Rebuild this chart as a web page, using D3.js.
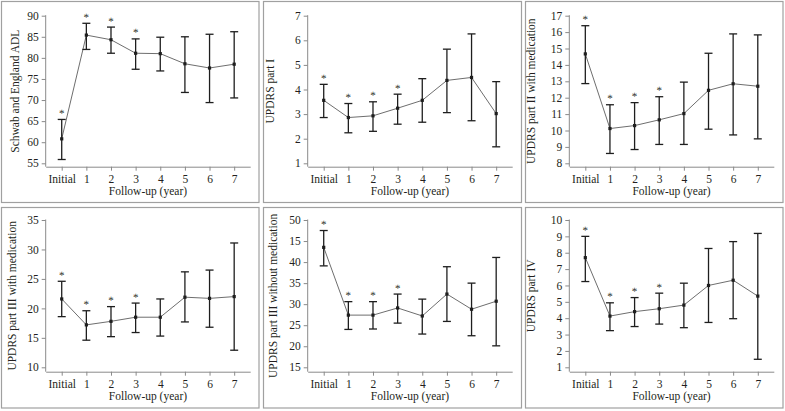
<!DOCTYPE html>
<html>
<head>
<meta charset="utf-8">
<script src="https://cdn.jsdelivr.net/npm/d3@7"></script>
<style>
html,body{margin:0;padding:0;background:#fff;}
svg{display:block;}
text{font-family:"Liberation Serif","DejaVu Serif",serif;fill:#231f20;}
</style>
</head>
<body>
<svg id="chart" width="785" height="411"></svg>
<script>
// ---------- data ----------
const categories = ["Initial", "1", "2", "3", "4", "5", "6", "7"];
const xTitle = "Follow-up (year)";

const titles = [
  "Schwab and England ADL",
  "UPDRS part I",
  "UPDRS part II with medication",
  "UPDRS part III with medication",
  "UPDRS part III without medication",
  "UPDRS part IV"
];

// mean, upper and lower error bounds per panel
const adlMean  = [60.8, 85.4, 84.3, 81.1, 81.0, 78.6, 77.6, 78.5];
const adlUpper = [65.4, 88.2, 87.3, 84.5, 84.9, 85.0, 85.6, 86.2];
const adlLower = [55.9, 82.0, 81.1, 77.3, 76.9, 71.8, 69.4, 70.5];

const p1Mean  = [3.56, 2.86, 2.93, 3.24, 3.56, 4.37, 4.49, 3.02];
const p1Upper = [4.21, 3.43, 3.50, 3.81, 4.44, 5.64, 6.26, 4.32];
const p1Lower = [2.86, 2.24, 2.30, 2.59, 2.67, 3.06, 2.73, 1.67];

const p2Mean  = [14.67, 10.12, 10.30, 10.65, 11.03, 12.45, 12.85, 12.70];
const p2Upper = [16.39, 11.57, 11.70, 12.06, 12.95, 14.71, 15.89, 15.83];
const p2Lower = [12.86, 8.60, 8.84, 9.15, 9.15, 10.08, 9.73, 9.49];

const p3onMean  = [21.6, 17.2, 17.8, 18.5, 18.5, 21.9, 21.7, 22.0];
const p3onUpper = [24.6, 19.6, 20.3, 20.9, 21.6, 26.2, 26.5, 31.1];
const p3onLower = [18.6, 14.6, 15.2, 15.9, 15.3, 17.7, 16.8, 12.9];

const p3offMean  = [43.5, 27.4, 27.4, 29.1, 27.2, 32.4, 28.8, 30.7];
const p3offUpper = [47.5, 30.6, 30.6, 32.4, 31.2, 38.9, 35.0, 41.1];
const p3offLower = [39.1, 24.0, 24.1, 25.5, 22.9, 25.9, 22.5, 20.1];

const p4Mean  = [7.70, 4.13, 4.40, 4.58, 4.80, 6.00, 6.32, 5.35];
const p4Upper = [9.00, 4.94, 5.26, 5.53, 6.14, 8.26, 8.68, 9.18];
const p4Lower = [6.24, 3.24, 3.49, 3.64, 3.42, 3.74, 3.97, 1.49];

// which categories are marked with an asterisk (same for all panels)
const starred = [true, true, true, true, false, false, false, false];

// tick values and labels for each panel
const adlTicks = [55, 60, 65, 70, 75, 80, 85, 90];
const adlTickLabels = ["55", "60", "65", "70", "75", "80", "85", "90"];
const p1Ticks = [1, 2, 3, 4, 5, 6, 7];
const p1TickLabels = ["1", "2", "3", "4", "5", "6", "7"];
const p2Ticks = [8, 9, 10, 11, 12, 13, 14, 15, 16, 17];
const p2TickLabels = ["8", "9", "10", "11", "12", "13", "14", "15", "16", "17"];
const p3onTicks = [10, 15, 20, 25, 30, 35];
const p3onTickLabels = ["10", "15", "20", "25", "30", "35"];
const p3offTicks = [15, 20, 25, 30, 35, 40, 45, 50];
const p3offTickLabels = ["15", "20", "25", "30", "35", "40", "15", "50"];
const p4Ticks = [1, 2, 3, 4, 5, 6, 7, 8, 9, 10];
const p4TickLabels = ["1", "2", "3", "4", "5", "6", "7", "8", "9", "10"];

const panels = [
  {title: titles[0], mean: adlMean, upper: adlUpper, lower: adlLower, ticks: adlTicks, labels: adlTickLabels},
  {title: titles[1], mean: p1Mean, upper: p1Upper, lower: p1Lower, ticks: p1Ticks, labels: p1TickLabels},
  {title: titles[2], mean: p2Mean, upper: p2Upper, lower: p2Lower, ticks: p2Ticks, labels: p2TickLabels},
  {title: titles[3], mean: p3onMean, upper: p3onUpper, lower: p3onLower, ticks: p3onTicks, labels: p3onTickLabels},
  {title: titles[4], mean: p3offMean, upper: p3offUpper, lower: p3offLower, ticks: p3offTicks, labels: p3offTickLabels},
  {title: titles[5], mean: p4Mean, upper: p4Upper, lower: p4Lower, ticks: p4Ticks, labels: p4TickLabels}
];

// ---------- layout ----------
const colLeft = [1.5, 263.5, 525.5];
const colAxisX = [45.7, 307.7, 569.3];
const colWidth = [257.5, 258, 257.5];
const rowTop = [1.5, 207.5];
const rowHeight = [201, 200.5];
const rowTopTick = [15.7, 220];
const rowLowTick = [163.3, 367.3];
const rowXAxis = [166.7, 371.7];
const labelX = [15.3, 269.5, 530.8, 11.7, 272.5, 530.5];
const axisLen = 204.5;

const svg = d3.select("#chart");
const GRAY = "#8a8a8a";
const DARK = "#1e1e1e";

panels.forEach((p, i) => {
  const col = i % 3, row = Math.floor(i / 3);
  const g = svg.append("g");

  // panel border
  g.append("rect")
    .attr("x", colLeft[col]).attr("y", rowTop[row])
    .attr("width", colWidth[col]).attr("height", rowHeight[row])
    .attr("fill", "none").attr("stroke", "#a0a0a0").attr("stroke-width", 1.2);

  const ax = colAxisX[col];
  const x = d3.scalePoint().domain(categories).range([ax, ax + axisLen]).padding(0.65);
  const y = d3.scaleLinear()
    .domain([d3.min(p.ticks), d3.max(p.ticks)])
    .range([rowLowTick[row], rowTopTick[row]]);

  // y axis
  const yAxis = d3.axisLeft(y).tickValues(p.ticks).tickSize(4).tickPadding(3)
    .tickFormat((d, k) => p.labels[k]);
  const yg = g.append("g").attr("transform", `translate(${ax},0)`).call(yAxis);
  yg.select(".domain").remove();
  yg.selectAll(".tick line").attr("stroke", GRAY);
  yg.selectAll(".tick text").attr("font-size", 11.5).attr("font-family", "Liberation Serif").attr("fill", "#231f20");
  g.append("line").attr("x1", ax).attr("x2", ax)
    .attr("y1", rowTopTick[row] - 0.5).attr("y2", rowXAxis[row])
    .attr("stroke", GRAY).attr("stroke-width", 1);

  // x axis
  const xAxis = d3.axisBottom(x).tickSize(4).tickPadding(4).tickSizeOuter(0);
  const xg = g.append("g").attr("transform", `translate(0,${rowXAxis[row]})`).call(xAxis);
  xg.select(".domain").attr("stroke", GRAY);
  xg.selectAll(".tick line").attr("stroke", GRAY);
  xg.selectAll(".tick text").attr("font-size", 11.5).attr("font-family", "Liberation Serif").attr("fill", "#231f20");

  // axis titles
  g.append("text")
    .attr("x", ax + axisLen / 2).attr("y", rowXAxis[row] + 28.5)
    .attr("text-anchor", "middle").attr("font-size", 11.5)
    .text(xTitle);
  const cy = (rowTopTick[row] + rowXAxis[row]) / 2;
  g.append("text")
    .attr("transform", `translate(${labelX[i]},${cy}) rotate(-90)`)
    .attr("text-anchor", "middle").attr("dominant-baseline", "central")
    .attr("font-size", 11.5)
    .text(p.title);

  // connecting line
  const line = d3.line().x((d, k) => x(categories[k])).y(d => y(d));
  g.append("path").datum(p.mean)
    .attr("d", line).attr("fill", "none")
    .attr("stroke", "#6e6e6e").attr("stroke-width", 1);

  // error bars
  const eb = g.selectAll(".eb").data(categories).enter().append("g");
  eb.append("line")
    .attr("x1", d => x(d)).attr("x2", d => x(d))
    .attr("y1", (d, k) => y(p.upper[k])).attr("y2", (d, k) => y(p.lower[k]))
    .attr("stroke", DARK).attr("stroke-width", 1.3);
  eb.append("line")
    .attr("x1", d => x(d) - 4).attr("x2", d => x(d) + 4)
    .attr("y1", (d, k) => y(p.upper[k])).attr("y2", (d, k) => y(p.upper[k]))
    .attr("stroke", DARK).attr("stroke-width", 1.3);
  eb.append("line")
    .attr("x1", d => x(d) - 4).attr("x2", d => x(d) + 4)
    .attr("y1", (d, k) => y(p.lower[k])).attr("y2", (d, k) => y(p.lower[k]))
    .attr("stroke", DARK).attr("stroke-width", 1.3);

  // markers
  g.selectAll(".mk").data(categories).enter().append("rect")
    .attr("x", d => x(d) - 1.6).attr("y", (d, k) => y(p.mean[k]) - 1.6)
    .attr("width", 3.2).attr("height", 3.2).attr("fill", DARK);

  // asterisks
  g.selectAll(".st").data(categories.filter((d, k) => starred[k])).enter().append("text")
    .attr("x", d => x(d)).attr("y", d => y(p.upper[categories.indexOf(d)]) - 2.5)
    .attr("text-anchor", "middle").attr("font-size", 11)
    .style("text-rendering", "geometricPrecision")
    .text("*");
});
</script>
</body>
</html>
